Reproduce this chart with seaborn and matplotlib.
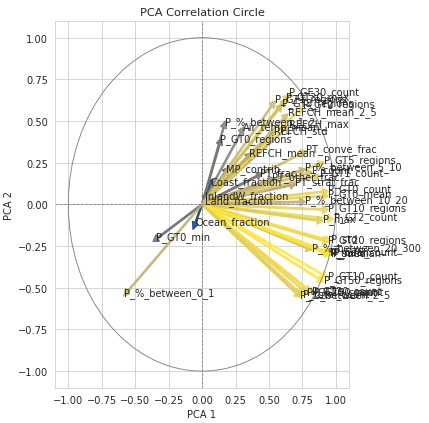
import matplotlib
matplotlib.use("Agg")
import matplotlib.pyplot as plt
import numpy as np
import seaborn as sns

# variable names and their loadings on the first two components
names = [
    "Land_fraction", "InlandW_fraction", "Coast_fraction", "Ocean_fraction",
    "MP_contrib", "P_GT0_min", "P_%_between_0_1", "P_GT0_regions",
    "P_%_between_1_2", "Air_temp_mean", "REFCH_std", "REFCH_max",
    "REFCH_mean", "PT_conve_frac", "PT_frac", "PT_other_frac",
    "PT_strat_frac", "P_GT5_regions", "P_%_between_5_10", "P_count",
    "P_GT1_count", "P_GT0_count", "P_GT0_mean", "P_%_between_10_20",
    "P_GT10_regions", "P_GT2_count", "P_max", "P_GT20_regions",
    "P_std", "P_%_between_20_300", "P_mean", "P_sum",
    "P_median", "P_GT5_count", "P_GT10_count", "P_GT50_regions",
    "P_GT20_count", "P_GT30_count", "P_GT50_count", "P_%_between_2_5",
    "P_total_count", "P_GT1_regions", "P_GE30_count", "P_GT2_regions",
    "REFCH_mean_2_5", "P_GT3_regions", "P_GT30_max",
]
pc1 = [
    0.02, 0.02, 0.06, -0.05,
    0.17, -0.33, -0.555, 0.13,
    0.16, 0.29, 0.51, 0.62,
    0.335, 0.74, 0.41, 0.50,
    0.66, 0.87, 0.73, 0.78,
    0.84, 0.90, 0.90, 0.73,
    0.90, 0.94, 0.86, 0.90,
    0.92, 0.78, 0.91, 0.92,
    0.93, 0.94, 0.90, 0.87,
    0.75, 0.78, 0.80, 0.70,
    0.72, 0.52, 0.62, 0.72,
    0.61, 0.57, 0.60,
]
pc2 = [
    0.01, 0.035, 0.115, -0.11,
    0.19, -0.20, -0.52, 0.36,
    0.46, 0.43, 0.41, 0.45,
    0.28, 0.305, 0.17, 0.145,
    0.115, 0.24, 0.20, 0.185,
    0.165, 0.075, 0.05, 0.015,
    -0.03, -0.085, -0.095, -0.215,
    -0.21, -0.26, -0.285, -0.29,
    -0.29, -0.285, -0.42, -0.445,
    -0.51, -0.505, -0.515, -0.53,
    -0.525, 0.59, 0.63, 0.56,
    0.515, 0.57, 0.60,
]

sns.set_style("whitegrid")
fig, ax = plt.subplots(figsize=(6, 5.93), dpi=71.5)
fig.subplots_adjust(left=0.128, right=0.814, bottom=0.083, top=0.948)

# colour each arrow by its length
lengths = np.hypot(pc1, pc2)
cmap = plt.get_cmap("cividis")
norm = plt.Normalize(lengths.min(), lengths.max())

for name, x, y, l in zip(names, pc1, pc2, lengths):
    ax.arrow(0, 0, x, y, color=cmap(norm(l)), alpha=0.8,
             width=0.011, head_width=0.05, head_length=0.045)
    ax.text(x * 1.05, y * 1.05, name, fontsize=10, color="#262626")

circle = plt.Circle((0, 0), 1, color="gray", fill=False, linewidth=0.9)
ax.add_patch(circle)
ax.axhline(0, color="gray", linestyle="--", linewidth=0.8)
ax.axvline(0, color="gray", linestyle="--", linewidth=0.8)

ax.set_xlim(-1.1, 1.1)
ax.set_ylim(-1.1, 1.1)
ax.set_xticks(np.arange(-1, 1.01, 0.25))
ax.set_yticks(np.arange(-1, 1.01, 0.25))
ax.tick_params(labelsize=10)
ax.set_xlabel("PCA 1", fontsize=10)
ax.set_ylabel("PCA 2", fontsize=10)
ax.set_title("PCA Correlation Circle", fontsize=11.5)

plt.savefig("out.png", dpi=71.5)
